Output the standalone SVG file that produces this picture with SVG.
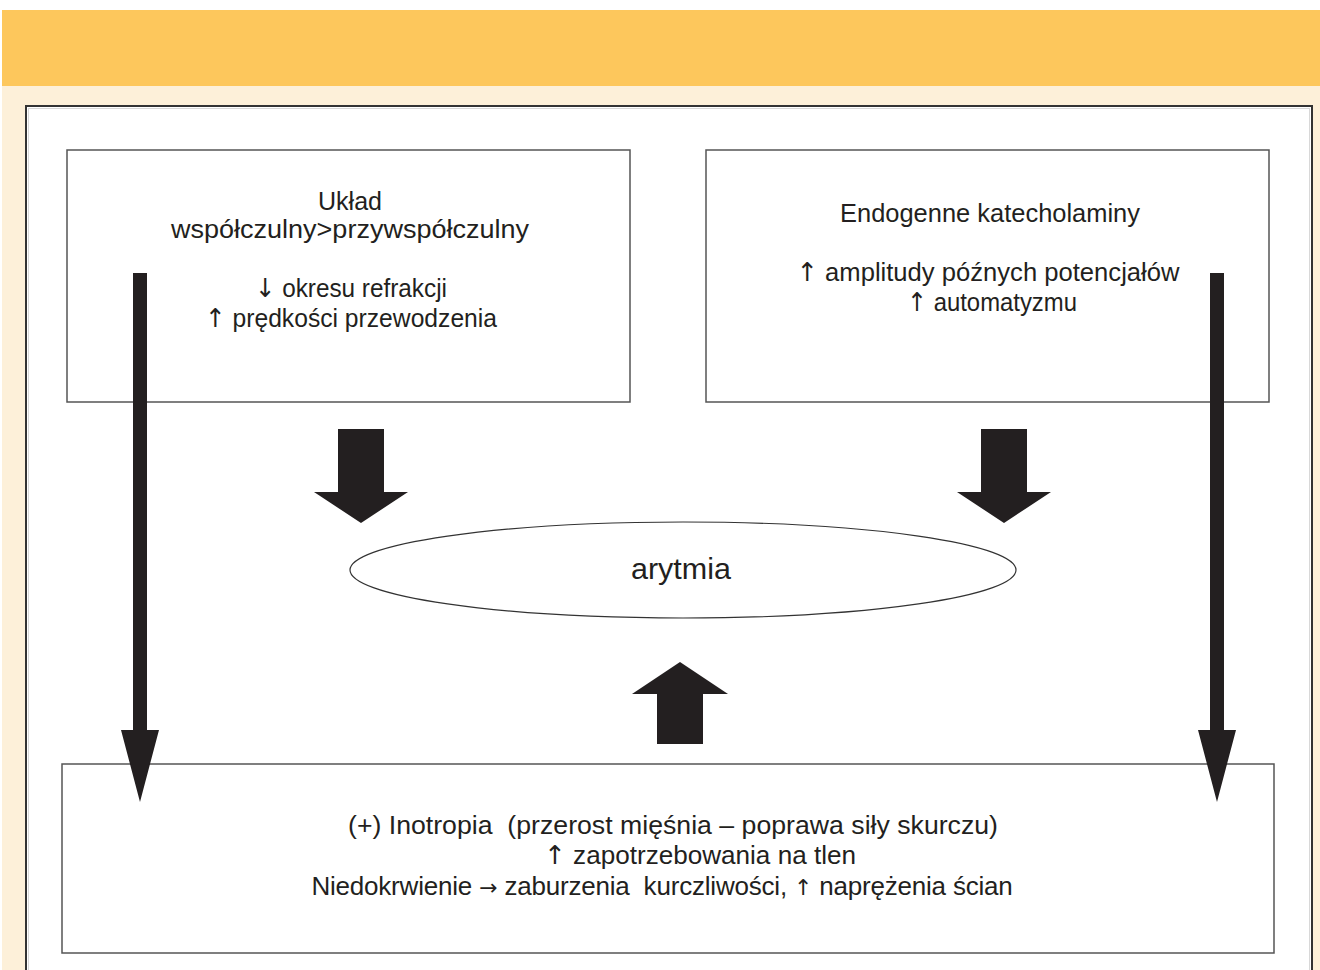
<svg xmlns="http://www.w3.org/2000/svg" width="1320" height="970" viewBox="0 0 1320 970">
<style>
.t{font-family:"Liberation Sans",Arial,Helvetica,sans-serif;font-size:26px;fill:#231f20;text-anchor:middle}
.a{font-family:"DejaVu Sans",sans-serif;font-size:26px}
.a2{font-family:"DejaVu Sans",sans-serif;font-size:22px}
.box{fill:#fff;stroke:#555;stroke-width:1.5}
.ar{fill:#231f20}
</style>
<rect x="0" y="0" width="1320" height="970" fill="#fff"/>
<rect x="2" y="10" width="1318" height="76" fill="#fdc75c"/>
<rect x="2" y="86" width="1318" height="884" fill="#fdf0d9"/>
<rect x="26" y="106" width="1286" height="880" fill="#fff" stroke="#333" stroke-width="2"/>
<rect x="28.5" y="108.5" width="1281" height="880" fill="none" stroke="#d8d8d8" stroke-width="1"/>

<g id="node-uklad">
<rect class="box" x="67" y="150" width="563" height="252"/>
<text class="t" x="350" y="210" textLength="64" lengthAdjust="spacingAndGlyphs">Układ</text>
<text class="t" x="350" y="238" textLength="358" lengthAdjust="spacingAndGlyphs">współczulny&gt;przywspółczulny</text>
<text class="t" x="351" y="297" textLength="192" lengthAdjust="spacingAndGlyphs"><tspan class="a">↓</tspan> okresu refrakcji</text>
<text class="t" x="351" y="327" textLength="292" lengthAdjust="spacingAndGlyphs"><tspan class="a">↑</tspan> prędkości przewodzenia</text>
</g>

<g id="node-endo">
<rect class="box" x="706" y="150" width="563" height="252"/>
<text class="t" x="990" y="222" textLength="300" lengthAdjust="spacingAndGlyphs">Endogenne katecholaminy</text>
<text class="t" x="988" y="281" textLength="383" lengthAdjust="spacingAndGlyphs"><tspan class="a">↑</tspan> amplitudy późnych potencjałów</text>
<text class="t" x="992" y="311" textLength="170" lengthAdjust="spacingAndGlyphs"><tspan class="a">↑</tspan> automatyzmu</text>
</g>

<g id="node-arytmia">
<ellipse cx="683" cy="570" rx="333" ry="48" fill="#fff" stroke="#333" stroke-width="1.2"/>
<text class="t" x="681" y="579" style="font-size:30px" textLength="100" lengthAdjust="spacingAndGlyphs">arytmia</text>
</g>

<g id="node-inotropia">
<rect class="box" x="62" y="764" width="1212" height="189"/>
<text class="t" x="673" y="834" textLength="650" lengthAdjust="spacingAndGlyphs">(+) Inotropia&#160; (przerost mięśnia – poprawa siły skurczu)</text>
<text class="t" x="700" y="864" textLength="312" lengthAdjust="spacingAndGlyphs"><tspan class="a">↑</tspan> zapotrzebowania na tlen</text>
<text class="t" x="662" y="895" style="letter-spacing:-0.2px">Niedokrwienie <tspan class="a2">→</tspan> zaburzenia&#160; kurczliwości, <tspan class="a2">↑</tspan> naprężenia ścian</text>
</g>

<g id="connectors">
<polygon class="ar" points="133,273 147,273 147,730 159,730 140,802 121,730 133,730"/>
<polygon class="ar" points="1210,273 1224,273 1224,730 1236,730 1217,802 1198,730 1210,730"/>
<polygon class="ar" points="338,429 384,429 384,492 408,492 361,523 314,492 338,492"/>
<polygon class="ar" points="981,429 1027,429 1027,492 1051,492 1004,523 957,492 981,492"/>
<polygon class="ar" points="657,744 703,744 703,694 728,694 680,662 632,694 657,694"/>
</g>
</svg>
